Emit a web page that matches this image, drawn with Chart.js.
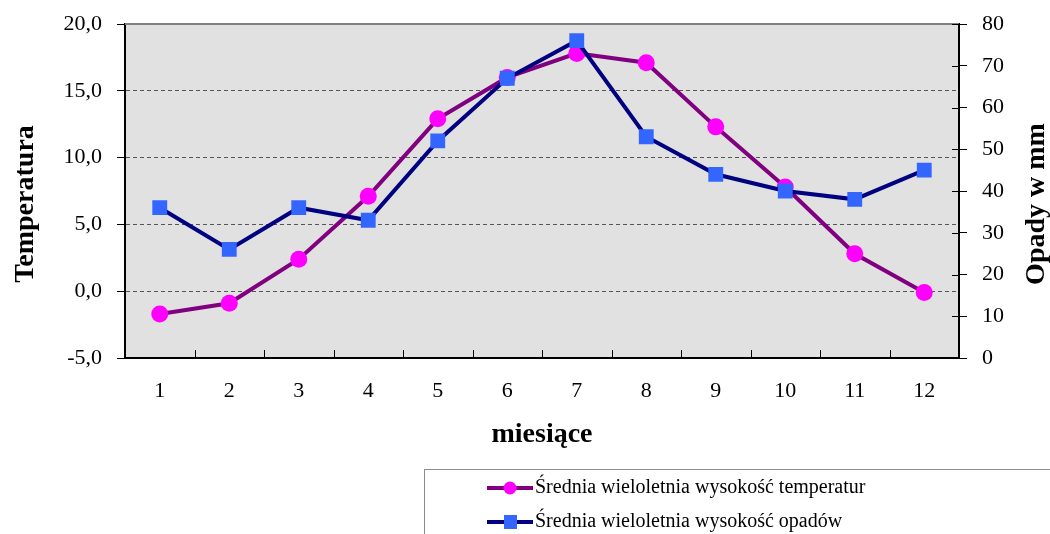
<!DOCTYPE html>
<html lang="pl">
<head>
<meta charset="utf-8">
<title>Temperatura i opady</title>
<script src="https://cdn.jsdelivr.net/npm/chart.js@4.4.1/dist/chart.umd.min.js"></script>
<style>
    html, body { margin: 0; padding: 0; background: #fff; }
    #wrap { width: 1050px; height: 534px; }
</style>
</head>
<body>
<div id="wrap"><canvas id="chart" width="1050" height="534"></canvas></div>
<script>
// --- DATA ---
const months = ['1', '2', '3', '4', '5', '6', '7', '8', '9', '10', '11', '12'];
const tempValues = [-1.7, -0.9, 2.4, 7.1, 12.9, 16.0, 17.8, 17.1, 12.3, 7.8, 2.8, -0.1];
const rainValues = [36, 26, 36, 33, 52, 67, 76, 53, 44, 40, 38, 45];
const tempTicks = [-5, 0, 5, 10, 15, 20];
const rainTicks = [0, 10, 20, 30, 40, 50, 60, 70, 80];

const tempLabel = 'Średnia wieloletnia wysokość temperatur';
const rainLabel = 'Średnia wieloletnia wysokość opadów';

// --- STYLE ---
const FONT = '"Liberation Serif", "Times New Roman", serif';
const tickFont = { family: FONT, size: 22 };
const titleFont = { family: FONT, size: 28, weight: 'bold' };

// plot background, top border line, small inner ticks
const plotBackground = {
    id: 'plotBackground',
    beforeDraw(chart) {
        const { ctx, chartArea: a } = chart;
        ctx.save();
        ctx.fillStyle = '#e1e1e1';
        ctx.fillRect(a.left, a.top, a.right - a.left, a.bottom - a.top);
        ctx.restore();
    },
    beforeDatasetsDraw(chart) {
        const { ctx, chartArea: a } = chart;
        ctx.save();
        ctx.strokeStyle = '#808080';
        ctx.lineWidth = 2;
        ctx.beginPath();
        ctx.moveTo(a.left, a.top);
        ctx.lineTo(a.right, a.top);
        ctx.stroke();

        // short inner ticks between months
        const x = chart.scales.x;
        ctx.strokeStyle = '#000';
        ctx.lineWidth = 1;
        for (let i = 0; i < months.length - 1; i++) {
            const px = Math.round((x.getPixelForValue(i) + x.getPixelForValue(i + 1)) / 2) + 0.5;
            ctx.beginPath();
            ctx.moveTo(px, a.bottom);
            ctx.lineTo(px, a.bottom - 8);
            ctx.stroke();
        }
        // right axis ticks crossing into the plot
        const y2 = chart.scales.y2;
        rainTicks.forEach(v => {
            const py = Math.round(y2.getPixelForValue(v)) + 0.5;
            ctx.beginPath();
            ctx.moveTo(a.right - 7, py);
            ctx.lineTo(a.right, py);
            ctx.stroke();
        });
        ctx.restore();
    }
};

// axis titles (both read bottom to top) and the legend box
const extras = {
    id: 'extras',
    afterDraw(chart) {
        const { ctx } = chart;
        const midY = 204;
        ctx.save();
        ctx.fillStyle = '#000';
        ctx.font = `bold ${titleFont.size}px ${FONT}`;
        ctx.textAlign = 'center';
        ctx.textBaseline = 'alphabetic';
        ctx.save();
        ctx.translate(33, midY);
        ctx.rotate(-Math.PI / 2);
        ctx.fillText('Temperatura', 0, 0);
        ctx.restore();
        ctx.save();
        ctx.translate(1044, midY);
        ctx.rotate(-Math.PI / 2);
        ctx.fillText('Opady w mm', 0, 0);
        ctx.restore();
        ctx.restore();

        // legend
        ctx.save();
        ctx.strokeStyle = '#8c8c8c';
        ctx.lineWidth = 1;
        ctx.strokeRect(424.5, 469.5, 700, 100);
        const rows = [
            { ds: chart.data.datasets[0], y: 488 },
            { ds: chart.data.datasets[1], y: 522 }
        ];
        rows.forEach(r => {
            ctx.strokeStyle = r.ds.borderColor;
            ctx.lineWidth = 4;
            ctx.beginPath();
            ctx.moveTo(487, r.y);
            ctx.lineTo(533, r.y);
            ctx.stroke();
            ctx.fillStyle = r.ds.pointBackgroundColor;
            if (r.ds.pointStyle === 'circle') {
                ctx.beginPath();
                ctx.arc(510, r.y, 6.5, 0, Math.PI * 2);
                ctx.fill();
            } else {
                ctx.fillRect(504, r.y - 7, 13, 14);
            }
            ctx.fillStyle = '#000';
            ctx.font = `20px ${FONT}`;
            ctx.textAlign = 'left';
            ctx.textBaseline = 'middle';
            ctx.fillText(r.ds.label, 535, r.y);
        });
        ctx.restore();
    }
};

const chart = new Chart(document.getElementById('chart').getContext('2d'), {
    type: 'line',
    data: {
        labels: months,
        datasets: [{
            label: tempLabel,
            data: tempValues,
            yAxisID: 'y',
            borderColor: '#800080',
            borderWidth: 4,
            pointStyle: 'circle',
            pointRadius: 8.5,
            pointBackgroundColor: '#ff00ff',
            pointBorderColor: '#ff00ff',
            pointBorderWidth: 0,
            tension: 0,
            order: 1
        }, {
            label: rainLabel,
            data: rainValues,
            yAxisID: 'y2',
            borderColor: '#000080',
            borderWidth: 4,
            pointStyle: 'rect',
            pointRadius: 10.5,
            pointBackgroundColor: '#3366ff',
            pointBorderColor: '#3366ff',
            pointBorderWidth: 0,
            tension: 0,
            order: 0
        }]
    },
    options: {
        responsive: false,
        animation: false,
        layout: { padding: { top: 24, right: 0, bottom: 0, left: 0 } },
        plugins: {
            legend: { display: false },
            tooltip: { enabled: false }
        },
        scales: {
            x: {
                offset: true,
                grid: { display: false, drawTicks: false },
                border: { color: '#000', width: 2 },
                ticks: { color: '#000', font: tickFont, padding: 20, maxRotation: 0 },
                title: {
                    display: true, text: 'miesiące', color: '#000', font: titleFont,
                    padding: { top: 0, bottom: 82 }
                },
                afterFit(scale) { scale.height = 176; }
            },
            y: {
                position: 'left',
                min: tempTicks[0],
                max: tempTicks[tempTicks.length - 1],
                afterBuildTicks(scale) { scale.ticks = tempTicks.map(v => ({ value: v })); },
                ticks: {
                    color: '#000', font: tickFont, padding: 15,
                    callback: v => v.toFixed(1).replace('.', ',')
                },
                grid: {
                    color: c => (c.tick && (c.tick.value === 20 || c.tick.value === -5)) ? 'rgba(0,0,0,0)' : '#555',
                    lineWidth: 1,
                    tickColor: '#000',
                    tickLength: 8,
                    tickBorderDash: []
                },
                border: { color: '#000', width: 2, dash: [4, 3] },
                afterFit(scale) {
                    scale.width = 125;
                    scale.paddingTop = 0;
                    scale.paddingBottom = 0;
                }
            },
            y2: {
                position: 'right',
                min: rainTicks[0],
                max: rainTicks[rainTicks.length - 1],
                afterBuildTicks(scale) { scale.ticks = rainTicks.map(v => ({ value: v })); },
                ticks: { color: '#000', font: tickFont, padding: 15 },
                grid: { drawOnChartArea: false, color: '#000', tickColor: '#000', tickLength: 8 },
                border: { color: '#000', width: 2 },
                afterFit(scale) {
                    scale.width = 91;
                    scale.paddingTop = 0;
                    scale.paddingBottom = 0;
                }
            }
        }
    },
    plugins: [plotBackground, extras]
});
</script>
</body>
</html>
